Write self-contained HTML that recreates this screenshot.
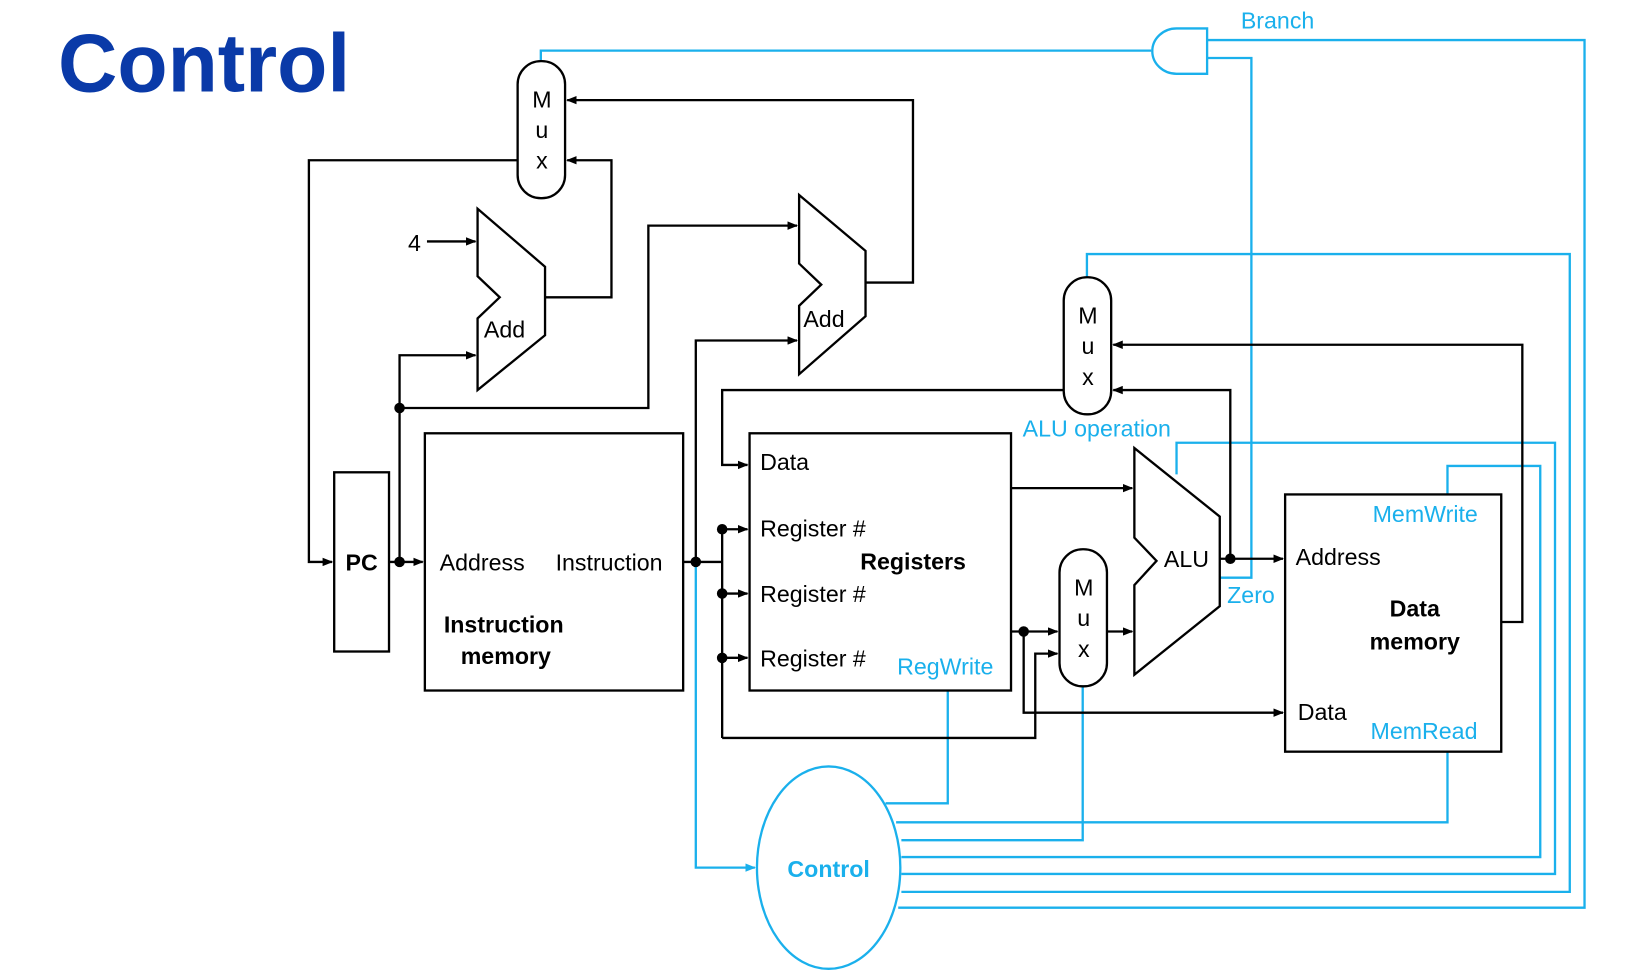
<!DOCTYPE html>
<html><head><meta charset="utf-8"><style>
html,body{margin:0;padding:0;background:#fff;}
svg{display:block;}
text{font-family:"Liberation Sans",sans-serif;font-size:22px;}
</style></head><body>
<svg width="1652" height="972" viewBox="0 0 1567 922" preserveAspectRatio="none">
<defs>
<marker id="a" markerWidth="10" markerHeight="8" refX="9" refY="4" orient="auto" markerUnits="userSpaceOnUse"><path d="M0,0 L10,4 L0,8 Z" fill="#000"/></marker>
<marker id="b" markerWidth="10" markerHeight="8" refX="9" refY="4" orient="auto" markerUnits="userSpaceOnUse"><path d="M0,0 L10,4 L0,8 Z" fill="#1ab0ec"/></marker>
</defs>
<text x="55" y="87" style="font-size:78px;font-weight:bold;fill:#0a3aa8">Control</text>

<g fill="none" stroke="#1ab0ec" stroke-width="2.2">
<path d="M1145,27 L1116,27 A23,21.5 0 0 0 1116,70 L1145,70 Z" fill="#fff"/>
<polyline points="1092,48 513,48 513,58"/>
<polyline points="1145,38 1503,38 1503,861 852,861"/>
<polyline points="1145,55 1187,55 1187,548 1157,548"/>
<polyline points="1031,263 1031,241 1489,241 1489,846 855,846"/>
<polyline points="1116,450 1116,420 1475,420 1475,829 855,829"/>
<polyline points="1373,469 1373,442 1461,442 1461,813 855,813"/>
<polyline points="1027,651 1027,797 855,797"/>
<polyline points="1373,713 1373,780 850,780"/>
<polyline points="899,655 899,762 840,762"/>
<polyline points="660,533 660,823 716,823" marker-end="url(#b)"/>
<ellipse cx="786" cy="823" rx="68" ry="96" fill="#fff"/>
</g>
<g fill="#1ab0ec">
<text x="1177" y="27">Branch</text>
<text x="970" y="414">ALU operation</text>
<text x="1164" y="572">Zero</text>
<text x="851" y="640">RegWrite</text>
<text x="1302" y="495">MemWrite</text>
<text x="1300" y="701">MemRead</text>
<text x="786" y="832" text-anchor="middle" style="font-weight:bold">Control</text>
</g>

<g fill="none" stroke="#000" stroke-width="2.2">
<rect x="491" y="58" width="45" height="130" rx="22" fill="#fff"/>
<rect x="1009" y="263" width="45" height="130" rx="22" fill="#fff"/>
<rect x="1005" y="521" width="45" height="130" rx="22" fill="#fff"/>
<polygon points="453,198 517,253 517,318 453,370 453,302 474,282 453,262" fill="#fff"/>
<polygon points="758,185 821,238 821,300 758,355 758,290 779,270 758,250" fill="#fff"/>
<polygon points="1076,425 1157,490 1157,575 1076,640 1076,555 1097,532 1076,510" fill="#fff"/>
<rect x="317" y="448" width="52" height="170"/>
<rect x="403" y="411" width="245" height="244"/>
<rect x="711" y="411" width="248" height="244"/>
<rect x="1219" y="469" width="205" height="244"/>
<line x1="405" y1="229" x2="451" y2="229" marker-end="url(#a)"/>
<polyline points="517,282 580,282 580,152 538,152" marker-end="url(#a)"/>
<polyline points="821,268 866,268 866,95 538,95" marker-end="url(#a)"/>
<polyline points="491,152 293,152 293,533 315,533" marker-end="url(#a)"/>
<line x1="369" y1="533" x2="401" y2="533" marker-end="url(#a)"/>
<polyline points="379,533 379,337 451,337" marker-end="url(#a)"/>
<polyline points="379,387 615,387 615,214 756,214" marker-end="url(#a)"/>
<line x1="648" y1="533" x2="685" y2="533"/>
<polyline points="660,533 660,323 756,323" marker-end="url(#a)"/>
<line x1="685" y1="502" x2="685" y2="700"/>
<line x1="685" y1="502" x2="709" y2="502" marker-end="url(#a)"/>
<line x1="685" y1="563" x2="709" y2="563" marker-end="url(#a)"/>
<line x1="685" y1="624" x2="709" y2="624" marker-end="url(#a)"/>
<polyline points="685,700 982,700 982,620 1003,620" marker-end="url(#a)"/>
<polyline points="1167,530 1167,370 1056,370" marker-end="url(#a)"/>
<polyline points="1009,370 685,370 685,441 709,441" marker-end="url(#a)"/>
<line x1="959" y1="463" x2="1074" y2="463" marker-end="url(#a)"/>
<line x1="959" y1="599" x2="1003" y2="599" marker-end="url(#a)"/>
<polyline points="971,599 971,676 1217,676" marker-end="url(#a)"/>
<line x1="1050" y1="599" x2="1074" y2="599" marker-end="url(#a)"/>
<line x1="1157" y1="530" x2="1217" y2="530" marker-end="url(#a)"/>
<polyline points="1424,590 1444,590 1444,327 1056,327" marker-end="url(#a)"/>
</g>
<g fill="#000">
<circle cx="379" cy="533" r="5"/><circle cx="379" cy="387" r="5"/>
<circle cx="660" cy="533" r="5"/>
<circle cx="685" cy="502" r="5"/><circle cx="685" cy="563" r="5"/><circle cx="685" cy="624" r="5"/>
<circle cx="971" cy="599" r="5"/><circle cx="1167" cy="530" r="5"/>
<text x="514" y="102" text-anchor="middle">M</text><text x="514" y="131" text-anchor="middle">u</text><text x="514" y="160" text-anchor="middle">x</text>
<text x="1032" y="307" text-anchor="middle">M</text><text x="1032" y="336" text-anchor="middle">u</text><text x="1032" y="365" text-anchor="middle">x</text>
<text x="1028" y="565" text-anchor="middle">M</text><text x="1028" y="594" text-anchor="middle">u</text><text x="1028" y="623" text-anchor="middle">x</text>
<text x="387" y="238">4</text>
<text x="459" y="320">Add</text>
<text x="762" y="310">Add</text>
<text x="1104" y="538">ALU</text>
<text x="343" y="541" text-anchor="middle" style="font-weight:bold">PC</text>
<text x="417" y="541">Address</text>
<text x="527" y="541">Instruction</text>
<text x="421" y="600" style="font-weight:bold">Instruction</text>
<text x="437" y="630" style="font-weight:bold">memory</text>
<text x="721" y="446">Data</text>
<text x="721" y="509">Register #</text>
<text x="816" y="540" style="font-weight:bold">Registers</text>
<text x="721" y="571">Register #</text>
<text x="721" y="632">Register #</text>
<text x="1229" y="536">Address</text>
<text x="1342" y="585" text-anchor="middle" style="font-weight:bold">Data</text>
<text x="1342" y="616" text-anchor="middle" style="font-weight:bold">memory</text>
<text x="1231" y="683">Data</text>
</g>
</svg>
</body></html>
